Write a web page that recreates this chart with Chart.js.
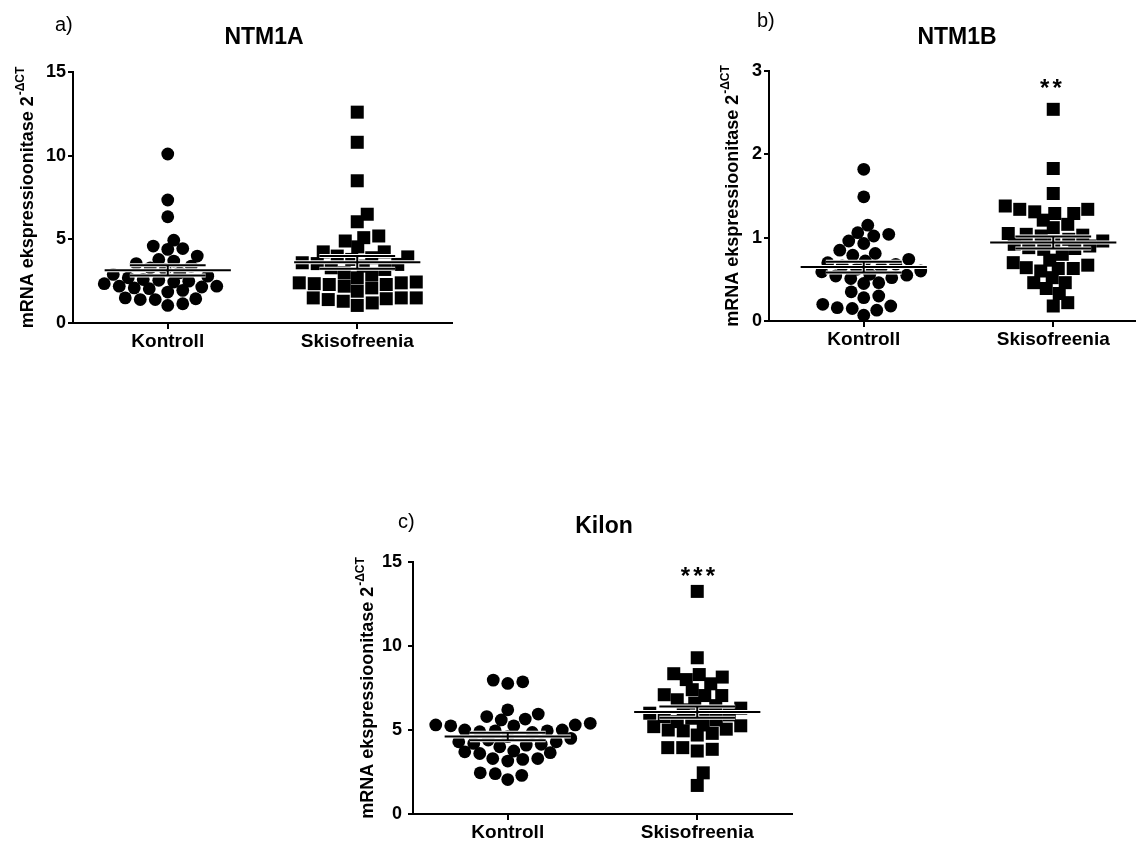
<!DOCTYPE html>
<html>
<head>
<meta charset="utf-8">
<script src="https://cdn.jsdelivr.net/npm/chart.js@4.4.1/dist/chart.umd.min.js"></script>
<style>
    html, body { margin: 0; padding: 0; background: #fff; overflow: hidden; width: 1136px; height: 843px; }
    .panel { position: absolute; }
</style>
</head>
<body>
<div class="panel" style="left:0px;top:0px"><canvas id="chartA" width="470" height="370"></canvas></div>
<div class="panel" style="left:700px;top:0px"><canvas id="chartB" width="460" height="370"></canvas></div>
<div class="panel" style="left:330px;top:480px"><canvas id="chartC" width="480" height="363"></canvas></div>
<script>
    var categories = ["Kontroll", "Skisofreenia"];
    var yTitle = "mRNA ekspressioonitase 2";
    var yTitleSup = "-\u0394CT";

    // a) NTM1A
    var ntm1aKontroll = [10.1, 7.35, 6.35, 4.95, 4.6, 4.4, 4.45, 4.0, 3.7, 3.8, 3.4, 3.55, 3.3, 3.2, 3.0, 2.9, 2.8, 2.7,
        2.6, 2.55, 2.5, 2.35, 2.45, 2.2, 2.15, 2.1, 2.05, 2.2, 1.85, 1.95, 1.45, 1.4, 1.05, 1.15, 1.4, 1.5];
    var ntm1aSkisofreenia = [12.6, 10.8, 8.5, 6.5, 6.05, 5.2, 5.1, 4.9, 4.55, 4.25, 4.25, 4.0, 3.95, 3.9, 3.8, 3.6, 3.55,
        3.5, 3.4, 3.3, 3.2, 3.0, 2.9, 2.7, 2.45, 2.4, 2.4, 2.35, 2.3, 2.3, 2.2, 2.1, 1.9, 1.5, 1.5, 1.5, 1.45, 1.4, 1.3, 1.2, 1.05];
    var ntm1aTicks = [0, 5, 10, 15];

    // b) NTM1B
    var ntm1bKontroll = [1.82, 1.49, 1.15, 1.06, 1.04, 1.02, 0.96, 0.93, 0.85, 0.81, 0.79, 0.74, 0.72, 0.70, 0.68, 0.66,
        0.64, 0.62, 0.60, 0.59, 0.56, 0.55, 0.54, 0.52, 0.51, 0.46, 0.45, 0.35, 0.30, 0.28, 0.20, 0.18, 0.16, 0.15, 0.13, 0.07];
    var ntm1bSkisofreenia = [2.54, 1.83, 1.53, 1.38, 1.34, 1.34, 1.31, 1.29, 1.29, 1.21, 1.16, 1.12, 1.05, 1.04, 1.03, 1.02,
        0.98, 0.96, 0.95, 0.92, 0.90, 0.88, 0.87, 0.86, 0.80, 0.73, 0.70, 0.67, 0.64, 0.63, 0.63, 0.60, 0.52, 0.46, 0.46,
        0.39, 0.33, 0.22, 0.18];
    var ntm1bTicks = [0, 1, 2, 3];

    // c) Kilon
    var kilonKontroll = [7.97, 7.87, 7.77, 6.2, 5.95, 5.8, 5.65, 5.6, 5.4, 5.3, 5.3, 5.25, 5.25, 5.0, 5.0, 4.95, 4.95, 4.9,
        4.85, 4.6, 4.5, 4.4, 4.3, 4.3, 4.2, 4.15, 4.1, 4.0, 3.75, 3.7, 3.65, 3.6, 3.3, 3.3, 3.25, 3.15, 2.45, 2.4, 2.3, 2.05];
    var kilonSkisofreenia = [13.25, 9.3, 8.35, 8.3, 8.15, 8.0, 7.75, 7.4, 7.1, 7.05, 7.05, 6.8, 6.6, 6.45, 6.3, 6.2, 6.1,
        6.0, 5.9, 5.8, 5.7, 5.6, 5.5, 5.3, 5.25, 5.2, 5.05, 5.0, 4.95, 4.8, 4.7, 3.95, 3.95, 3.85, 3.75, 2.45, 1.7];
    var kilonTicks = [0, 5, 10, 15];

    var FONT = '"Liberation Sans", Arial, Helvetica, sans-serif';

    // beeswarm: each point goes as close to the column centre as it can,
    // keeping 15px sideways / 10px vertical clearance (prism style overlapping rows),
    // and not sitting straight on top of a close neighbour
    function swarm(values, center, pxPerUnit, pxPerX) {
        var sx = 15, sy = 10;
        var sorted = values.slice().sort(function (a, b) { return a - b; });
        var placed = [];
        sorted.forEach(function (v) {
            var py = v * pxPerUnit;
            var dx = 0;
            for (var k = 0; k < 600; k++) {
                dx = (k % 2 ? 1 : -1) * Math.ceil(k / 2) * 0.5;
                var ok = placed.every(function (q) {
                    var ddx = q.dx - dx, ddy = q.py - py;
                    if (Math.abs(ddx) < 6 && Math.abs(ddy) < 13) return false;
                    var ax = ddx / sx, ay = ddy / sy;
                    return ax * ax + ay * ay >= 1;
                });
                if (ok) break;
            }
            placed.push({dx: dx, py: py, v: v});
        });
        return placed.map(function (q) { return {x: center + q.dx / pxPerX, y: q.v}; });
    }

    function meanSem(values) {
        var n = values.length;
        var m = values.reduce(function (s, v) { return s + v; }, 0) / n;
        var ss = values.reduce(function (s, v) { return s + (v - m) * (v - m); }, 0);
        var sd = Math.sqrt(ss / (n - 1));
        return {mean: m, sem: sd / Math.sqrt(n)};
    }

    function statSets(values, c) {
        var st = meanSem(values);
        var m = st.mean, s = st.sem;
        var segs = [
            [[c - 0.333, m], [c + 0.333, m]],
            [[c - 0.2, m + s], [c + 0.2, m + s]],
            [[c - 0.2, m - s], [c + 0.2, m - s]],
            [[c, m - s], [c, m + s]],
        ];
        var sets = [];
        segs.forEach(function (seg) {
            var data = seg.map(function (p) { return {x: p[0], y: p[1]}; });
            sets.push({data: data, showLine: true, pointRadius: 0, borderColor: "#fff", borderWidth: 4, order: 2});
            sets.push({data: data, showLine: true, pointRadius: 0, borderColor: "#000", borderWidth: 2, order: 1});
        });
        return sets;
    }

    function fillMid(ctx, text, x, y) {
        ctx.textBaseline = "alphabetic";
        var mt = ctx.measureText(text);
        ctx.fillText(text, x, y + (mt.actualBoundingBoxAscent - mt.actualBoundingBoxDescent) / 2);
    }

    var panelText = {
        id: "panelText",
        afterDraw: function (chart, args, o) {
            var ctx = chart.ctx;
            var area = chart.chartArea;
            ctx.save();
            ctx.fillStyle = "#000";
            ctx.font = "20px " + FONT;
            ctx.textAlign = "left";
            fillMid(ctx, o.letter, o.letterX, o.letterY);
            ctx.font = "bold 23px " + FONT;
            ctx.textAlign = "center";
            fillMid(ctx, o.title, o.titleX, o.titleY);
            if (o.stars) {
                ctx.font = "bold 24px " + FONT;
                for (var i = 0; i < o.stars; i++) {
                    fillMid(ctx, "*", o.starsX + (i - (o.stars - 1) / 2) * 12.5, o.starsY);
                }
            }
            // y axis title with superscript
            var cy = (area.top + area.bottom) / 2;
            ctx.translate(o.labelX, cy);
            ctx.rotate(-Math.PI / 2);
            ctx.font = "bold 18px " + FONT;
            var w1 = ctx.measureText(yTitle).width;
            ctx.font = "bold 12px " + FONT;
            var w2 = ctx.measureText(yTitleSup).width;
            var start = -(w1 + w2 + 1) / 2;
            ctx.textAlign = "left";
            ctx.textBaseline = "middle";
            ctx.font = "bold 18px " + FONT;
            ctx.fillText(yTitle, start, 0);
            ctx.font = "bold 12px " + FONT;
            ctx.fillText(yTitleSup, start + w1 + 1, -7);
            ctx.restore();
        }
    };

    function makePanel(id, p) {
        var canvas = document.getElementById(id);
        var plotH = canvas.height - p.xHeight - p.padTop;
        var plotW = canvas.width - p.yWidth - p.padRight;
        var yMin = p.ticks[0], yMax = p.ticks[p.ticks.length - 1];
        var pxPerUnit = plotH / (yMax - yMin);
        var pxPerX = plotW / 2;
        var datasets = [].concat(
            statSets(p.kontroll, 1),
            statSets(p.skis, 2),
            [{
                data: swarm(p.kontroll, 1, pxPerUnit, pxPerX),
                pointStyle: "circle", pointRadius: 6.4, backgroundColor: "#000", borderWidth: 0, order: 3
            }, {
                data: swarm(p.skis, 2, pxPerUnit, pxPerX),
                pointStyle: "rect", pointRadius: 9.2, backgroundColor: "#000", borderWidth: 0, order: 3
            }]
        );
        return new Chart(canvas, {
            type: "scatter",
            data: {datasets: datasets},
            options: {
                responsive: false,
                animation: false,
                events: [],
                layout: {padding: {top: p.padTop, right: p.padRight, left: 0, bottom: 0}},
                plugins: {
                    legend: {display: false},
                    tooltip: {enabled: false},
                    panelText: p.text,
                },
                scales: {
                    x: {
                        type: "linear", min: 0.5, max: 2.5,
                        afterBuildTicks: function (axis) { axis.ticks = [{value: 1}, {value: 2}]; },
                        afterFit: function (s) { s.height = p.xHeight; },
                        ticks: {
                            callback: function (v) { return categories[Math.round(v) - 1]; },
                            color: "#000", font: {family: FONT, size: 19, weight: "bold"},
                            padding: 1, maxRotation: 0, autoSkip: false,
                        },
                        grid: {drawOnChartArea: false, drawTicks: true, tickLength: 6, color: "#000", lineWidth: 2},
                        border: {display: true, color: "#000", width: 2},
                    },
                    y: {
                        min: yMin, max: yMax,
                        afterBuildTicks: function (axis) {
                            axis.ticks = p.ticks.map(function (v) { return {value: v}; });
                        },
                        afterFit: function (s) { s.width = p.yWidth; },
                        ticks: {color: "#000", font: {family: FONT, size: 18, weight: "bold"}, padding: p.tickPad},
                        grid: {drawOnChartArea: false, drawTicks: true, tickLength: 5, color: "#000", lineWidth: 2},
                        border: {display: true, color: "#000", width: 2},
                    },
                },
            },
            plugins: [panelText],
        });
    }

    makePanel("chartA", {
        kontroll: ntm1aKontroll, skis: ntm1aSkisofreenia, ticks: ntm1aTicks,
        padTop: 72, padRight: 18, yWidth: 73, xHeight: 47, tickPad: 2,
        text: {letter: "a)", letterX: 55, letterY: 25.5, title: "NTM1A", titleX: 264, titleY: 35, labelX: 28, stars: 0},
    });
    makePanel("chartB", {
        kontroll: ntm1bKontroll, skis: ntm1bSkisofreenia, ticks: ntm1bTicks,
        padTop: 71, padRight: 12, yWidth: 69, xHeight: 49, tickPad: 2,
        text: {letter: "b)", letterX: 57, letterY: 21, title: "NTM1B", titleX: 257, titleY: 35, labelX: 33,
            stars: 2, starsX: 351, starsY: 83},
    });
    makePanel("chartC", {
        kontroll: kilonKontroll, skis: kilonSkisofreenia, ticks: kilonTicks,
        padTop: 82, padRight: 18, yWidth: 83, xHeight: 29, tickPad: 6,
        text: {letter: "c)", letterX: 68, letterY: 42, title: "Kilon", titleX: 274, titleY: 43.5, labelX: 38,
            stars: 3, starsX: 368, starsY: 91},
    });
</script>
</body>
</html>
